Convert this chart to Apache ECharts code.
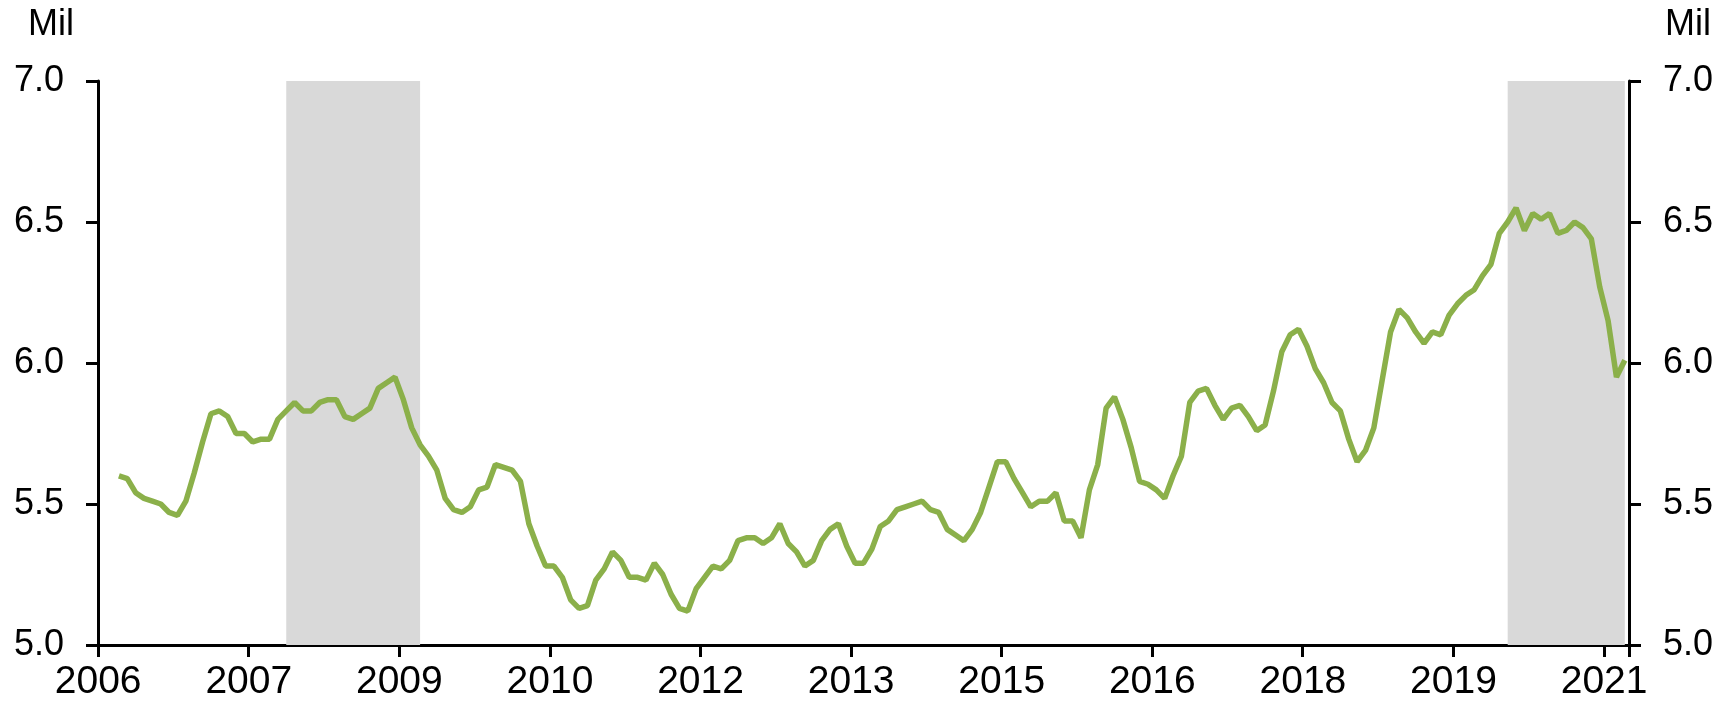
<!DOCTYPE html>
<html>
<head>
<meta charset="utf-8">
<title>Mil</title>
<script src="https://cdn.jsdelivr.net/npm/echarts@6/dist/echarts.min.js"></script>
<style>
    html, body { margin: 0; padding: 0; background: #fff; }
    #chart { width: 1733px; height: 711px; }
</style>
</head>
<body>
<div id="chart"></div>
<script>
var startYear = 2006;
var monthCount = 183; // Jan 2006 .. Mar 2021

// years shown every 18 months
var tickLabels = ['2006', '2007', '2009', '2010', '2012', '2013', '2015', '2016', '2018', '2019', '2021'];

// monthly values, Mil (first two months blank)
var values = [
    null, null, 5.60, 5.59, 5.54, 5.52, 5.51, 5.50, 5.47, 5.46, 5.51, 5.61,
    5.72, 5.82, 5.83, 5.81, 5.75, 5.75, 5.72, 5.73, 5.73, 5.80, 5.83, 5.86,
    5.83, 5.83, 5.86, 5.87, 5.87, 5.81, 5.80, 5.82, 5.84, 5.91, 5.93, 5.95,
    5.87, 5.77, 5.71, 5.67, 5.62, 5.52, 5.48, 5.47, 5.49, 5.55, 5.56, 5.64,
    5.63, 5.62, 5.58, 5.43, 5.35, 5.28, 5.28, 5.24, 5.16, 5.13, 5.14, 5.23,
    5.27, 5.33, 5.30, 5.24, 5.24, 5.23, 5.29, 5.25, 5.18, 5.13, 5.12, 5.20,
    5.24, 5.28, 5.27, 5.30, 5.37, 5.38, 5.38, 5.36, 5.38, 5.43, 5.36, 5.33,
    5.28, 5.30, 5.37, 5.41, 5.43, 5.35, 5.29, 5.29, 5.34, 5.42, 5.44, 5.48,
    5.49, 5.50, 5.51, 5.48, 5.47, 5.41, 5.39, 5.37, 5.41, 5.47, 5.56, 5.65,
    5.65, 5.59, 5.54, 5.49, 5.51, 5.51, 5.54, 5.44, 5.44, 5.38, 5.55, 5.64,
    5.84, 5.88, 5.80, 5.70, 5.58, 5.57, 5.55, 5.52, 5.60, 5.67, 5.86, 5.90,
    5.91, 5.85, 5.80, 5.84, 5.85, 5.81, 5.76, 5.78, 5.90, 6.04, 6.10, 6.12,
    6.06, 5.98, 5.93, 5.86, 5.83, 5.73, 5.65, 5.69, 5.77, 5.94, 6.11, 6.19,
    6.16, 6.11, 6.07, 6.11, 6.10, 6.17, 6.21, 6.24, 6.26, 6.31, 6.35, 6.46,
    6.50, 6.55, 6.47, 6.53, 6.51, 6.53, 6.46, 6.47, 6.50, 6.48, 6.44, 6.27,
    6.15, 5.95, 6.01
];

// shaded periods, as month indexes [from, to]
var shaded = [[22, 38], [168, 182]];

var yMin = 5.0, yMax = 7.0, yStep = 0.5;

var months = [];
for (var i = 0; i < monthCount; i++) {
    var y = startYear + Math.floor(i / 12);
    var m = (i % 12) + 1;
    months.push(y + '-' + (m < 10 ? '0' + m : m));
}

var fontFamily = "'Liberation Sans', Arial, sans-serif";
var textStyle = { color: '#000', fontSize: 36, fontWeight: 'normal', fontFamily: fontFamily };

function yAxisDef(pos) {
    return {
        type: 'value',
        position: pos,
        min: yMin,
        max: yMax,
        interval: yStep,
        splitLine: { show: false },
        axisLine: { show: true, lineStyle: { color: '#000', width: 3 } },
        axisTick: { show: true, length: 12, lineStyle: { color: '#000', width: 3 } },
        axisLabel: {
            margin: 34,
            color: '#000',
            fontSize: 36,
            fontFamily: fontFamily,
            formatter: function (v) { return v.toFixed(1); }
        }
    };
}

var markData = [];
for (var k = 0; k < shaded.length; k++) {
    markData.push([{ xAxis: months[shaded[k][0]] }, { xAxis: months[shaded[k][1]] }]);
}

var chart = echarts.init(document.getElementById('chart'));
var option = {
    animation: false,
    backgroundColor: '#fff',
    title: [
        { text: 'Mil', left: 23, top: 2, textStyle: textStyle },
        { text: 'Mil', left: 1660, top: 2, textStyle: textStyle }
    ],
    grid: { left: 98, right: 104, top: 81, bottom: 66, containLabel: false },
    xAxis: {
        type: 'category',
        data: months,
        boundaryGap: true,
        axisLine: { show: true, lineStyle: { color: '#000', width: 3 } },
        axisTick: { show: true, interval: 17, length: 12, lineStyle: { color: '#000', width: 3 } },
        axisLabel: {
            interval: 17,
            margin: 18,
            color: '#000',
            fontSize: 39,
            fontFamily: fontFamily,
            padding: [0, 8, 0, 0],
            formatter: function (val, idx) {
                return tickLabels[Math.round(idx / 18)];
            }
        },
        splitLine: { show: false }
    },
    yAxis: [yAxisDef('left'), yAxisDef('right')],
    series: [{
        type: 'line',
        data: values,
        symbol: 'none',
        lineStyle: { color: '#8BB04A', width: 5.5 },
        itemStyle: { color: '#8BB04A' },
        z: 3,
        markArea: {
            silent: true,
            itemStyle: { color: '#D9D9D9' },
            data: markData
        }
    }]
};
chart.setOption(option);
</script>
</body>
</html>
